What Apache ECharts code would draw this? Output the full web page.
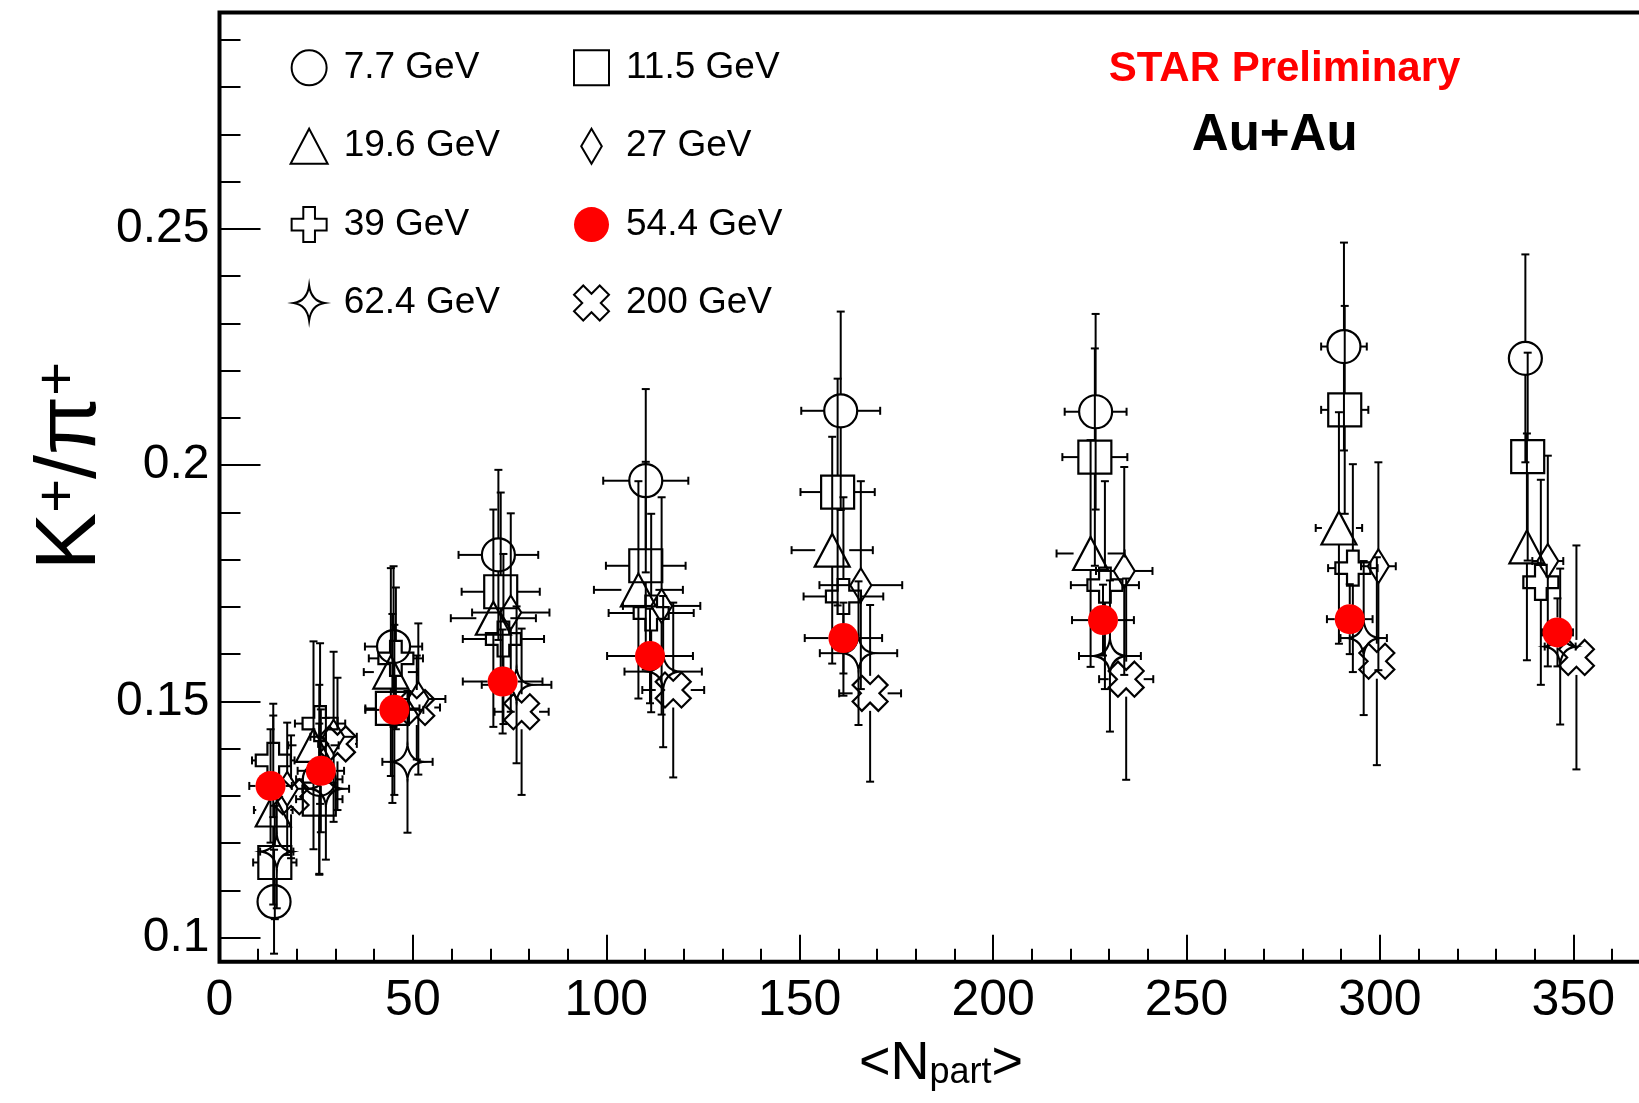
<!DOCTYPE html>
<html><head><meta charset="utf-8">
<script src="https://cdn.jsdelivr.net/npm/echarts@6/dist/echarts.min.js"></script>
<style>html,body{margin:0;padding:0;background:#fff}#c{width:1639px;height:1103px}</style>
</head><body><div id="c"></div>
<script>
// ---------------- data ----------------
const energies = ['7.7 GeV','11.5 GeV','19.6 GeV','27 GeV','39 GeV','54.4 GeV','62.4 GeV','200 GeV'];

const npart77 = [14.1, 25.8, 45.0, 72.1, 110.2, 160.6, 226.5, 290.7, 337.6];
const ratio77 = [0.1076, 0.1335, 0.1616, 0.1810, 0.1967, 0.2115, 0.2113, 0.2251, 0.2226];
const errY77  = [0.011, 0.020, 0.017, 0.018, 0.0194, 0.021, 0.0207, 0.022, 0.022];
const errX77  = [3, 6, 7.4, 10.3, 11, 10.2, 8, 5.9, 4];

const npart115 = [14.3, 25.8, 44.7, 72.7, 110.2, 159.8, 226.3, 290.9, 338.2];
const ratio115 = [0.1159, 0.1293, 0.1485, 0.1732, 0.1787, 0.1943, 0.2017, 0.2117, 0.2018];
const errY115  = [0.012, 0.016, 0.020, 0.021, 0.022, 0.024, 0.023, 0.022, 0.022];
const errX115  = [5.6, 6, 7, 10.1, 10.3, 9.6, 8.4, 6.1, 4];

const npart196 = [13.9, 24.3, 44.3, 70.8, 108.3, 158.4, 225.2, 289.4, 338.0];
const ratio196 = [0.1270, 0.1407, 0.1562, 0.1676, 0.1736, 0.1820, 0.1813, 0.1867, 0.1827];
const errY196  = [0.020, 0.022, 0.022, 0.023, 0.023, 0.024, 0.024, 0.0245, 0.024];
const errX196  = [5, 6.5, 7, 11, 11.5, 10.5, 8.8, 6, 4];

const npart27 = [17.5, 29.5, 51.4, 75.3, 114.3, 165.8, 233.9, 299.6, 343.4];
const ratio27 = [0.1315, 0.1425, 0.1505, 0.1688, 0.1702, 0.1746, 0.1776, 0.1786, 0.1797];
const errY27  = [0.014, 0.018, 0.016, 0.021, 0.023, 0.022, 0.022, 0.022, 0.0223];
const errX27  = [4, 6, 7, 10, 10, 10.7, 7.3, 4.5, 4];

const npart39 = [13.9, 26.0, 45.6, 73.4, 111.6, 161.3, 228.9, 293.0, 341.6];
const ratio39 = [0.1375, 0.1453, 0.1591, 0.1632, 0.1687, 0.1722, 0.1746, 0.1782, 0.1752];
const errY39  = [0.012, 0.017, 0.015, 0.018, 0.021, 0.021, 0.022, 0.022, 0.0217];
const errX39  = [5.5, 6.5, 7, 10.5, 11, 10.3, 8.8, 6.4, 4];

const npart544 = [13.2, 26.2, 45.2, 73.2, 111.3, 161.3, 228.4, 292.2, 345.9];
const ratio544 = [0.1321, 0.1353, 0.1482, 0.1542, 0.1596, 0.1634, 0.1672, 0.1674, 0.1646];
const errY544  = [0.012, 0.013, 0.018, 0.011, 0.010, 0.0075, 0.0075, 0.0074, 0.0072];
const errX544  = [5.5, 6, 7.5, 10.3, 11.1, 10, 8, 5.9, 4];

const npart624 = [14.8, 27.5, 48.6, 76.8, 114.7, 165.2, 230.2, 295.8, 346.6];
const ratio624 = [0.1182, 0.1315, 0.1372, 0.1535, 0.1563, 0.1602, 0.1596, 0.1634, 0.1616];
const errY624  = [0.012, 0.015, 0.015, 0.0166, 0.016, 0.0152, 0.016, 0.0163, 0.0165];
const errX624  = [4.3, 6, 6.5, 9, 10, 10, 8, 6, 4];

const npart200 = [18.5, 30.5, 51.0, 78.1, 117.3, 168.2, 234.4, 299.2, 350.8];
const ratio200 = [0.1298, 0.1410, 0.1487, 0.1478, 0.1524, 0.1517, 0.1547, 0.1585, 0.1593];
const errY200  = [0.013, 0.014, 0.011, 0.0176, 0.0185, 0.0187, 0.0213, 0.022, 0.0237];
const errX200  = [4, 5, 6, 7, 8, 8, 7, 4.5, 4];

const yMajorTicks = [0.1, 0.15, 0.2, 0.25];
const yMinorTicks = [0.11,0.12,0.13,0.14,0.16,0.17,0.18,0.19,0.21,0.22,0.23,0.24,0.26,0.27,0.28,0.29];

// ---------------- styles ----------------
const FONT = "'Liberation Sans', Arial, Helvetica, sans-serif";
function rotatedPlus(a) {
  const pts = [[-a,-50],[a,-50],[a,-a],[50,-a],[50,a],[a,a],[a,50],[-a,50],[-a,a],[-50,a],[-50,-a],[-a,-a]];
  const r = pts.map(([x,y]) => [((x - y)/Math.SQRT2 + 50).toFixed(2), ((x + y)/Math.SQRT2 + 50).toFixed(2)]);
  return 'path://M' + r.map(p => p.join(',')).join('L') + 'Z';
}
const SQUARE = 'path://M0,0H34V34H0Z';
const TRIANGLE = 'path://M18,0L36,34L0,34Z';
const PLUS = 'path://M12,0H24V12H36V24H24V36H12V24H0V12H12Z';
const XCROSS = rotatedPlus(18);
const DIAMOND = 'path://M10,0L20,17L10,34L0,17Z';
const STAR = 'path://M15,0Q17,15 30,17Q17,19 15,34Q13,19 0,17Q13,15 15,0Z';

const seriesDefs = [
  {name: energies[0], xs: npart77,  ys: ratio77,  ex: errX77,  ey: errY77,  symbol: 'circle', size: 33,       gx: 16.5, gy: 16.5},
  {name: energies[1], xs: npart115, ys: ratio115, ex: errX115, ey: errY115, symbol: SQUARE,   size: 33,       gx: 16.5, gy: 16.5},
  {name: energies[2], xs: npart196, ys: ratio196, ex: errX196, ey: errY196, symbol: TRIANGLE, size: [35, 33], gx: 17,   gy: 16.5},
  {name: energies[3], xs: npart27,  ys: ratio27,  ex: errX27,  ey: errY27,  symbol: DIAMOND,  size: [21, 34], gx: 10.5, gy: 17},
  {name: energies[4], xs: npart39,  ys: ratio39,  ex: errX39,  ey: errY39,  symbol: PLUS,     size: 35,       gx: 17.5, gy: 17.5},
  {name: energies[5], xs: npart544, ys: ratio544, ex: errX544, ey: errY544, symbol: 'circle', size: 30,       gx: 15,   gy: 15, filled: true},
  {name: energies[6], xs: npart624, ys: ratio624, ex: errX624, ey: errY624, symbol: STAR,     size: [30, 34], gx: 15,   gy: 17},
  {name: energies[7], xs: npart200, ys: ratio200, ex: errX200, ey: errY200, symbol: XCROSS,   size: 35,       gx: 17.5, gy: 17.5}
];

function errSeries(d, idx) {
  return {
    type: 'custom', id: 'err' + idx, z: 2, silent: true, animation: false,
    data: d.xs.map((x, i) => [x, d.ys[i], d.ex[i], d.ey[i]]),
    encode: {x: 0, y: 1},
    renderItem: function (params, api) {
      const x = api.value(0), y = api.value(1), ex = api.value(2), ey = api.value(3);
      const c = api.coord([x, y]);
      const yt = api.coord([x, y + ey])[1], yb = api.coord([x, y - ey])[1];
      const xl = api.coord([x - ex, y])[0], xr = api.coord([x + ex, y])[0];
      const st = {stroke: '#000', lineWidth: 2};
      const cap = 4;
      const L = (x1, y1, x2, y2) => ({type: 'line', shape: {x1, y1, x2, y2}, style: st});
      const ch = [];
      if (c[1] - yt > d.gy) { ch.push(L(c[0], c[1] - d.gy, c[0], yt)); ch.push(L(c[0] - cap, yt, c[0] + cap, yt)); }
      if (yb - c[1] > d.gy) { ch.push(L(c[0], c[1] + d.gy, c[0], yb)); ch.push(L(c[0] - cap, yb, c[0] + cap, yb)); }
      if (c[0] - xl > d.gx) { ch.push(L(c[0] - d.gx, c[1], xl, c[1])); ch.push(L(xl, c[1] - cap, xl, c[1] + cap)); }
      if (xr - c[0] > d.gx) { ch.push(L(c[0] + d.gx, c[1], xr, c[1])); ch.push(L(xr, c[1] - cap, xr, c[1] + cap)); }
      return {type: 'group', children: ch};
    }
  };
}
function markerSeries(d) {
  return {
    type: 'scatter', name: d.name, silent: true, animation: false,
    z: d.filled ? 4 : 3,
    data: d.xs.map((x, i) => [x, d.ys[i]]),
    symbol: d.symbol, symbolSize: d.size,
    itemStyle: d.filled ? {color: '#ff0000', opacity: 1}
                        : {color: 'rgba(0,0,0,0)', borderColor: '#000', borderWidth: 2.2, opacity: 1}
  };
}

const series = [];
seriesDefs.forEach((d, i) => series.push(errSeries(d, i)));
seriesDefs.forEach(d => series.push(markerSeries(d)));

const legendCommon = {
  orient: 'vertical', padding: 0, itemWidth: 59, itemHeight: 35, itemGap: 38.4,
  selectedMode: false, top: 47.8,
  textStyle: {fontSize: 37, lineHeight: 40, fontFamily: FONT, color: '#000'}
};
const iconOf = name => seriesDefs.find(s => s.name === name).symbol;

const chart = echarts.init(document.getElementById('c'), null, {renderer: 'canvas'});
chart.setOption({
  animation: false,
  backgroundColor: '#fff',
  grid: {left: 219.5, top: 12.5, width: 1442.8, height: 949.2, show: true,
         borderColor: '#000', borderWidth: 4, backgroundColor: 'transparent',
         containLabel: false, outerBoundsMode: 'none'},
  legend: [
    Object.assign({}, legendCommon, {left: 289.6,
      data: [energies[0], energies[2], energies[4], energies[6]].map(n => ({name: n, icon: iconOf(n)}))}),
    Object.assign({}, legendCommon, {left: 573.0,
      data: [energies[1], energies[3], energies[5], energies[7]].map(n => ({name: n, icon: iconOf(n)}))})
  ],
  xAxis: {
    type: 'value', min: 0, max: 373, interval: 50,
    axisLine: {show: false},
    axisTick: {show: true, inside: true, length: 27, lineStyle: {color: '#000', width: 2}},
    minorTick: {show: true, splitNumber: 5, length: 13, lineStyle: {color: '#000', width: 2}},
    splitLine: {show: false}, minorSplitLine: {show: false},
    axisLabel: {fontSize: 50, fontFamily: FONT, color: '#000', margin: 15, showMaxLabel: false}
  },
  yAxis: [
    {
      type: 'value', min: 0.0949, max: 0.2958, position: 'left',
      axisLine: {show: false},
      axisTick: {show: true, inside: true, length: 41, customValues: yMajorTicks, lineStyle: {color: '#000', width: 2}},
      splitLine: {show: false},
      axisLabel: {customValues: yMajorTicks, fontSize: 48, fontFamily: FONT, color: '#000', margin: 10,
                  formatter: v => String(+(+v).toFixed(2))}
    },
    {
      type: 'value', min: 0.0949, max: 0.2958, position: 'left', offset: 0,
      axisLine: {show: false},
      axisTick: {show: true, inside: true, length: 21, customValues: yMinorTicks, lineStyle: {color: '#000', width: 2}},
      splitLine: {show: false},
      axisLabel: {show: false}
    }
  ],
  graphic: [
    {type: 'text', x: 71, y: 466, rotation: Math.PI / 2, silent: true,
     style: {text: '{m|K}{s|+}{m|/π}{s|+}', align: 'center', verticalAlign: 'middle', fill: '#000',
             rich: {m: {fontSize: 86, lineHeight: 82, fontFamily: FONT},
                    s: {fontSize: 58, lineHeight: 38, verticalAlign: 'top', fontFamily: FONT}}}},
    {type: 'text', x: 941, y: 1064, silent: true,
     style: {text: '{m|<N}{s|part}{m|>}', align: 'center', verticalAlign: 'middle', fill: '#000',
             rich: {m: {fontSize: 54, lineHeight: 54, verticalAlign: 'top', fontFamily: FONT},
                    s: {fontSize: 36, lineHeight: 16, verticalAlign: 'bottom', fontFamily: FONT}}}},
    {type: 'text', x: 1284.6, y: 69, silent: true,
     style: {text: 'STAR Preliminary', font: "bold 42px 'Liberation Sans', Arial, sans-serif", fill: '#ff0000',
             align: 'center', verticalAlign: 'middle'}},
    {type: 'text', x: 1274.7, y: 136, silent: true,
     style: {text: 'Au+Au', font: "bold 51px 'Liberation Sans', Arial, sans-serif", fill: '#000',
             align: 'center', verticalAlign: 'middle'}}
  ],
  series: series
});
</script></body></html>
